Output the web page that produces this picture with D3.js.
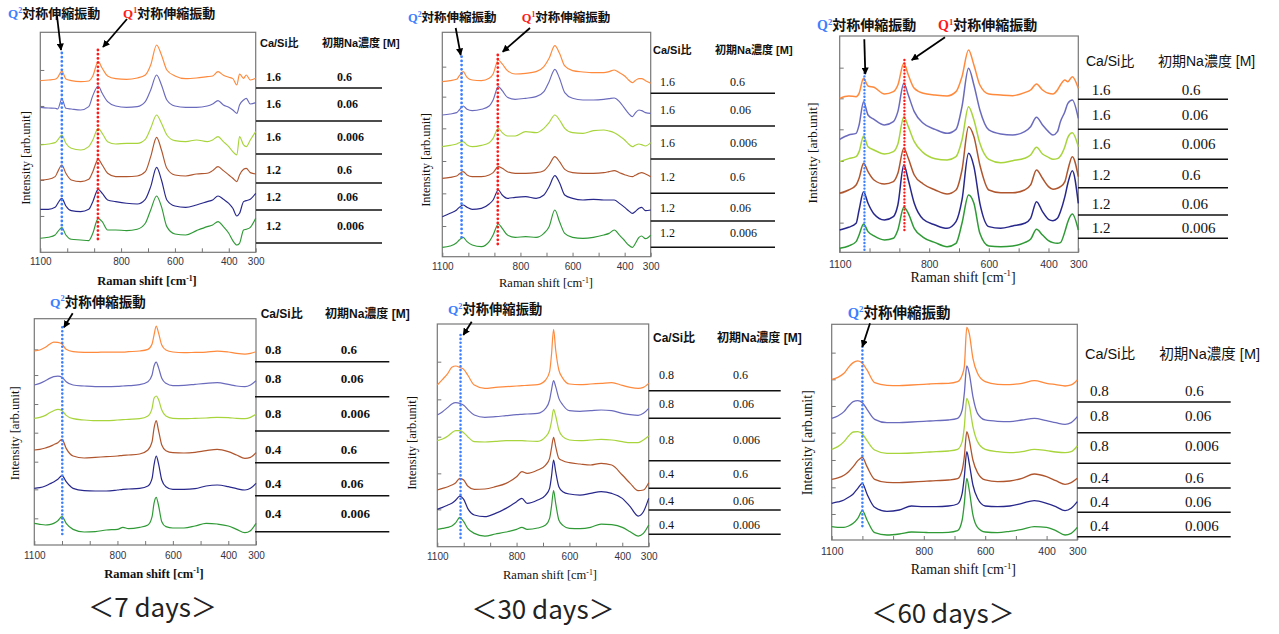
<!DOCTYPE html>
<html><head><meta charset="utf-8">
<script src="https://cdn.jsdelivr.net/npm/d3@7"></script>
<style>
html,body{margin:0;padding:0;background:#fff;}
svg{display:block;}
</style></head><body>
<svg id="chart" width="1279" height="634"></svg>
<script>
// ---------------- DATA ----------------
// Raman shift sample positions [cm-1]
const shiftTop = [1100,1070,1045,1035,1020,1005,985,950,920,905,885,870,850,820,780,740,710,690,668,650,630,600,560,520,480,460,440,420,400,385,370,360,345,335,320,300];
const shiftBottom = [1100,1080,1060,1045,1030,1015,1000,985,960,920,880,840,800,780,760,720,690,675,668,660,652,640,625,600,560,520,480,440,400,370,340,320,300];

const xTicks = [1100,1000,900,800,700,600,500,400,300];
const xTickLabels = [1100,800,600,400,300];

const caSiHigh = ["1.6","1.6","1.6","1.2","1.2","1.2"];
const caSiLow = ["0.8","0.8","0.8","0.4","0.4","0.4"];
const naConc = ["0.6","0.06","0.006","0.6","0.06","0.006"];
const dayLabels = ["＜7 days＞","＜30 days＞","＜60 days＞"];
const seriesColors = ["#ff8a3d","#6b6bbd","#a8d43c","#b0562e","#28288c","#2f9a36"];

// peak marker positions [cm-1]
const q2Shift = [1020,1026,1017,999,1012,1000];
const q1Shift = [886,887,883];

// intensities [arb.unit], offset-stacked as in the figure
// 7 days, Ca/Si 1.6 / 1.2
const d7_ca16_na06   = [515,517,519,525,544,520,515,512,514,529,572,552,529,521,519,523,532,562,622,592,547,529,521,523,527,529,542,531,525,521,502,535,522,532,517,522];
const d7_ca16_na006  = [435,433,432,430,460,432,430,427,437,470,499,477,452,439,435,437,452,487,532,502,457,439,435,435,439,445,455,442,435,427,417,442,457,462,445,449];
const d7_ca16_na0006 = [322,325,329,337,352,327,312,307,317,337,372,357,332,325,327,327,339,372,412,387,352,335,332,337,332,337,347,332,317,302,292,347,322,317,337,362];
const d7_ca12_na06   = [217,219,227,242,262,237,217,212,219,242,279,262,237,227,227,229,242,287,345,307,252,232,229,235,237,245,257,245,232,222,212,232,249,252,239,235];
const d7_ca12_na006  = [129,129,135,147,162,139,125,122,129,152,189,177,157,152,147,145,159,197,255,217,157,139,135,142,152,157,169,159,147,132,109,117,152,155,159,177];
const d7_ca12_na0006 = [42,45,52,62,74,52,39,37,35,57,102,92,67,67,65,69,87,127,169,137,77,55,52,65,77,82,92,77,57,35,22,27,67,69,75,102];
// 30 days, Ca/Si 1.6 / 1.2
const d30_ca16_na06   = [525,528,532,542,555,538,530,528,535,548,590,578,558,548,550,555,570,595,633,610,572,558,554,552,552,555,560,552,542,530,522,528,534,534,528,520];
const d30_ca16_na006  = [425,428,432,440,452,442,438,442,452,470,510,498,478,472,475,480,495,525,562,535,492,475,470,470,472,474,476,465,445,430,420,430,440,438,432,430];
const d30_ca16_na0006 = [330,334,338,342,345,335,330,334,342,355,385,372,362,362,375,372,385,402,425,410,385,372,370,378,380,377,372,362,350,338,330,334,338,336,332,342];
const d30_ca12_na06   = [235,238,242,248,255,245,240,240,245,252,270,265,255,250,250,252,258,275,300,285,262,252,250,250,252,255,258,252,246,242,240,244,250,252,248,240];
const d30_ca12_na006  = [120,130,140,148,155,148,142,145,158,170,200,185,175,178,180,175,185,210,243,222,185,175,170,172,170,170,170,160,148,138,130,135,145,148,138,140];
const d30_ca12_na0006 = [28,32,42,50,58,45,35,30,45,65,98,85,65,58,60,58,70,90,140,105,70,58,55,58,65,70,80,65,48,35,28,38,58,62,54,65];
// 60 days, Ca/Si 1.6 / 1.2
const d60_ca16_na06   = [462,469,467,477,522,499,495,475,482,502,567,532,492,477,472,469,482,527,607,562,502,475,472,470,479,487,505,487,477,475,487,502,517,512,527,492];
const d60_ca16_na006  = [339,352,357,382,452,412,399,382,392,422,507,472,422,387,369,357,369,437,552,502,427,367,355,352,362,377,405,382,362,352,362,392,422,447,457,402];
const d60_ca16_na0006 = [272,281,287,302,349,317,307,295,302,325,407,377,332,299,281,277,287,337,437,397,327,279,269,275,282,292,315,295,285,279,281,289,317,345,359,317];
const d60_ca12_na06   = [177,187,202,222,267,242,217,205,212,237,312,282,232,205,187,175,187,247,377,347,262,187,179,179,187,202,247,222,197,189,192,197,212,247,287,227];
const d60_ca12_na006  = [67,75,87,127,182,147,115,97,107,142,262,217,147,99,82,72,92,157,297,257,147,77,72,79,87,102,152,122,99,95,102,122,167,207,245,147];
const d60_ca12_na0006 = [12,19,32,52,85,62,49,37,42,67,135,117,72,45,29,17,27,87,172,147,57,19,17,19,29,39,69,52,35,29,27,29,62,92,115,67];
// 7 days, Ca/Si 0.8 / 0.4
const d7_ca08_na06   = [582,585,593,602,609,608,603,587,580,578,578,579,579,579,580,582,587,603,630,657,637,600,585,579,577,578,579,582,579,575,573,575,580];
const d7_ca08_na006  = [480,485,493,500,505,507,503,490,480,477,475,475,476,477,478,481,490,510,537,549,533,500,485,478,479,482,485,487,482,477,475,480,493];
const d7_ca08_na0006 = [380,383,389,397,403,407,403,389,379,375,373,373,375,376,377,379,387,410,440,447,437,405,387,380,379,380,381,383,382,380,379,383,392];
const d7_ca04_na06   = [285,287,291,295,301,307,317,290,267,261,263,265,267,269,270,273,285,310,350,373,345,300,283,277,276,278,283,287,280,270,260,263,277];
const d7_ca04_na006  = [170,172,177,183,189,197,208,190,170,163,162,162,165,167,168,170,177,200,240,267,245,195,175,167,167,169,177,180,175,169,165,170,185];
const d7_ca04_na0006 = [65,62,60,61,65,73,85,65,47,39,40,45,47,53,49,53,60,85,125,143,120,70,55,51,51,57,65,63,57,47,37,43,65];
// 30 days, Ca/Si 0.8 / 0.4
const d30_ca08_na06   = [485,502,520,538,542,538,532,515,485,475,478,480,482,483,484,486,500,525,575,652,590,530,505,488,486,488,490,492,484,478,475,478,490];
const d30_ca08_na006  = [395,405,418,428,432,430,424,412,395,388,390,393,396,397,398,400,415,440,470,498,480,445,425,408,406,408,410,408,400,396,394,400,415];
const d30_ca08_na0006 = [318,323,332,342,348,348,342,330,315,314,316,318,318,318,317,316,330,350,375,412,392,350,330,320,318,320,322,320,315,312,312,320,332];
const d30_ca04_na06   = [170,175,180,185,192,205,200,182,172,173,180,190,210,225,220,230,245,265,295,328,300,265,258,252,248,245,250,245,215,190,168,170,192];
const d30_ca04_na006  = [112,118,125,130,140,152,142,115,95,90,100,115,135,145,130,140,155,175,210,260,225,180,165,158,155,160,165,160,145,120,92,105,145];
const d30_ca04_na0006 = [52,55,58,62,72,88,75,55,40,32,38,44,52,58,52,56,65,85,120,168,130,80,64,55,54,58,68,66,58,45,32,40,65];
// 60 days, Ca/Si 0.8 / 0.4
const d60_ca08_na06   = [482,488,500,518,532,537,530,510,472,464,463,465,467,468,469,470,475,495,520,638,620,545,500,475,467,466,470,478,470,466,462,465,480];
const d60_ca08_na006  = [365,372,385,402,415,418,412,392,362,352,352,354,356,357,358,360,365,390,440,522,500,430,380,360,356,355,360,365,358,352,347,352,370];
const d60_ca08_na0006 = [272,280,295,312,324,325,318,298,270,260,260,261,263,264,265,267,272,295,340,425,405,340,295,272,265,262,265,272,268,264,262,265,282];
const d60_ca04_na06   = [182,186,194,205,220,238,248,220,182,173,172,174,176,177,178,180,184,210,250,325,300,240,202,180,175,177,185,198,190,178,167,172,185];
const d60_ca04_na006  = [110,114,120,128,138,155,170,138,98,86,90,102,100,100,100,102,108,140,190,265,230,165,125,102,100,102,110,118,110,100,88,95,115];
const d60_ca04_na0006 = [40,38,38,42,50,65,88,60,22,15,18,24,23,22,22,23,28,60,110,185,150,75,38,24,22,26,32,40,38,28,15,20,38];

// ---------------- LAYOUT ----------------
const SANS = "'Liberation Sans','Noto Sans CJK JP',Arial,sans-serif";
const SERIF = "'Liberation Serif','Times New Roman',serif";
const CJK = "'Noto Sans CJK JP','Noto Sans CJK SC',sans-serif";

const panels = [
 {shifts: shiftTop, series:[d7_ca16_na06,d7_ca16_na006,d7_ca16_na0006,d7_ca12_na06,d7_ca12_na006,d7_ca12_na0006], caSi: caSiHigh,
  yMax:660, left:40.3,right:255.7,top:32.3,bottom:252.3, yTicks:[547,439,325,217,109], lw:1.15, dot:[2.8,4.2],
  tickY:262, tickFs:10, titleX:147,titleY:281,titleFs:12.5,titleW:"bold", yTitleX:26,yTitleY:158,yTitleFs:12.5,
  q2:{x:8,y:13,fs:13, a:[57,16,61,50], ly:[53,237], s:q2Shift[0]},
  q1:{x:123,y:13,fs:13, a:[127,19,103,47], ly:[50,240], s:q1Shift[0]},
  tab:{hy:43, hCa:260, hNa:322, hFs:11, hW:"bold", rows:[77,104,137,170,197,226], lines:[88,121,154,183,210,243], lx:[256,382], vCa:266, vNa:337, vFs:12, vW:"bold"}},
 {shifts: shiftTop, series:[d30_ca16_na06,d30_ca16_na006,d30_ca16_na0006,d30_ca12_na06,d30_ca12_na006,d30_ca12_na0006], caSi: caSiHigh,
  yMax:673, left:442.3,right:650.7,top:32.3,bottom:256.7, yTicks:[570,480,385,287,190,92], lw:1.15, dot:[2.8,4.2],
  tickY:266.7, tickFs:10, titleX:546,titleY:283,titleFs:12.5,titleW:"normal", yTitleX:426,yTitleY:160,yTitleFs:12.5,
  q2:{x:408,y:17,fs:12.5, a:[455.7,28,460.7,55], ly:[56.7,240], s:q2Shift[1]},
  q1:{x:521.7,y:17,fs:12.5, a:[530,28,502.7,51.7], ly:[55,245], s:q1Shift[1]},
  tab:{hy:50, hCa:653, hNa:715, hFs:11, hW:"bold", rows:[81.7,110,142.3,176.7,207.3,232.7], lines:[93.3,126,159,193.3,221,247.3], lx:[650.7,775], vCa:660, vNa:730, vFs:12, vW:"normal"}},
 {shifts: shiftTop, series:[d60_ca16_na06,d60_ca16_na006,d60_ca16_na0006,d60_ca12_na06,d60_ca12_na006,d60_ca12_na0006], caSi: caSiHigh,
  yMax:649, left:839.7,right:1078.3,top:36,bottom:252.3, yTicks:[554,462,369,274,180,89], lw:1.5, dot:[2.4,3.4],
  tickY:264.3, tickFs:10.5, titleX:963,titleY:276.7,titleFs:14,titleW:"normal", yTitleX:812.7,yTitleY:153,yTitleFs:13.5,
  q2:{x:817,y:25,fs:14, a:[864.3,39.3,865.3,74], ly:[73,250], s:q2Shift[2]},
  q1:{x:938,y:25,fs:14, a:[945,37.3,911.7,60], ly:[60,233], s:q1Shift[2]},
  tab:{hy:61, hCa:1086, hNa:1158, hFs:14, hW:"normal", rows:[89.3,114.3,143.3,174.3,204,227.3], lines:[99.3,129.3,159.3,187.7,215,238.3], lx:[1078,1228], vCa:1091.7, vNa:1181.7, vFs:15, vW:"normal"}},
 {shifts: shiftBottom, series:[d7_ca08_na06,d7_ca08_na006,d7_ca08_na0006,d7_ca04_na06,d7_ca04_na006,d7_ca04_na0006], caSi: caSiLow,
  yMax:679, left:34.3,right:256,top:318.7,bottom:545, yTicks:[587,510,423,337,250,167,80], lw:1.2, dot:[2.6,3.9],
  tickY:555.7, tickFs:10, titleX:154,titleY:573.3,titleFs:12.5,titleW:"bold", yTitleX:15,yTitleY:433.3,yTitleFs:12.5,
  q2:{x:50,y:301.7,fs:13.5, a:[72.7,313.3,64,327.3], ly:[327.3,536.7], s:q2Shift[3]},
  day:{x:152.5,y:608,text:dayLabels[0]},
  tab:{hy:314, hCa:260.7, hNa:325, hFs:12, hW:"bold", rows:[349.3,378.3,413.3,449.3,483.3,513.3], lines:[361.7,396.7,431,462.7,495.7,531.7], lx:[255,389.3], vCa:265, vNa:340.7, vFs:13, vW:"bold"}},
 {shifts: shiftBottom, series:[d30_ca08_na06,d30_ca08_na006,d30_ca08_na0006,d30_ca04_na06,d30_ca04_na006,d30_ca04_na0006], caSi: caSiLow,
  yMax:668, left:437.3,right:648.7,top:324,bottom:546.7, yTicks:[555,442,330,220,112], lw:1.2, dot:[2.6,3.9],
  tickY:556.7, tickFs:10, titleX:550,titleY:575,titleFs:12.5,titleW:"normal", yTitleX:412,yTitleY:443,yTitleFs:12.5,
  q2:{x:448,y:309.3,fs:13.3, a:[471.7,321.7,463.3,335], ly:[335,538.3], s:q2Shift[4]},
  day:{x:543,y:610,text:dayLabels[1]},
  tab:{hy:337.7, hCa:653, hNa:717, hFs:12, hW:"bold", rows:[375,404,440,474,501,525], lines:[390.7,418.3,460.7,488.3,510,534.3], lx:[648.7,780.7], vCa:659, vNa:733, vFs:12, vW:"normal"}},
 {shifts: shiftBottom, series:[d60_ca08_na06,d60_ca08_na006,d60_ca08_na0006,d60_ca04_na06,d60_ca04_na006,d60_ca04_na0006], caSi: caSiLow,
  yMax:647, left:831.7,right:1077.3,top:324.3,bottom:540, yTicks:[562,482,402,322,240,158,78], lw:1.3, dot:[2.6,3.9],
  tickY:551, tickFs:10.5, titleX:963.3,titleY:569.3,titleFs:14,titleW:"normal", yTitleX:807.3,yTitleY:442.7,yTitleFs:14,
  q2:{x:847.7,y:312.7,fs:14.5, a:[870,323.3,862.3,346.7], ly:[346.7,529.3], s:q2Shift[5]},
  day:{x:943,y:613.3,text:dayLabels[2]},
  tab:{hy:354, hCa:1085, hNa:1159.3, hFs:14.5, hW:"normal", rows:[391,416,446,477.3,502,525.3], lines:[402,432.7,463.3,488,512.3,536.7], lx:[1077.3,1230.7], vCa:1090, vNa:1185, vFs:15, vW:"normal"}}
];

// ---------------- DRAW ----------------
const svg = d3.select("#chart");
svg.append("rect").attr("width",1279).attr("height",634).attr("fill","#fff");
svg.append("defs").append("marker").attr("id","arrow").attr("viewBox","0 0 10 10")
  .attr("refX",9).attr("refY",5).attr("markerWidth",4).attr("markerHeight",4).attr("orient","auto")
  .append("path").attr("d","M0,0L10,5L0,10z").attr("fill","#000");

function qLabel(g, q, n, color) {
  const t = g.append("text").attr("x", q.x).attr("y", q.y + q.fs*0.36).attr("font-size", q.fs);
  t.append("tspan").attr("font-family", SERIF).attr("font-weight","bold").attr("fill", color).text("Q");
  t.append("tspan").attr("font-family", SERIF).attr("font-weight","bold").attr("fill", color)
    .attr("font-size", q.fs*0.62).attr("dy", -q.fs*0.38).text(n);
  t.append("tspan").attr("font-family", CJK).attr("font-weight","bold").attr("fill","#111")
    .attr("dy", q.fs*0.38).text("対称伸縮振動");
  g.append("line").attr("x1",q.a[0]).attr("y1",q.a[1]).attr("x2",q.a[2]).attr("y2",q.a[3])
    .attr("stroke","#000").attr("stroke-width",1.8).attr("marker-end","url(#arrow)");
}

panels.forEach(p => {
  const g = svg.append("g");
  const x = d3.scaleLinear().domain([1100,300]).range([p.left,p.right]);
  const y = d3.scaleLinear().domain([0,p.yMax]).range([p.bottom,p.top]);

  // frame
  g.append("rect").attr("x",p.left).attr("y",p.top).attr("width",p.right-p.left).attr("height",p.bottom-p.top)
    .attr("fill","none").attr("stroke","#777").attr("stroke-width",1.2);

  // x axis
  const xa = g.append("g").attr("transform",`translate(0,${p.bottom})`)
    .call(d3.axisBottom(x).tickValues(xTicks).tickSizeInner(-4).tickSizeOuter(0)
      .tickPadding(p.tickY - p.bottom - p.tickFs*0.36)
      .tickFormat(d => xTickLabels.includes(d) ? d : ""));
  xa.select(".domain").remove();
  xa.selectAll("line").attr("stroke","#777");
  xa.selectAll("text").attr("font-family",SANS).attr("font-size",p.tickFs).attr("fill","#333344");

  // y ticks (no labels)
  const ya = g.append("g").attr("transform",`translate(${p.left},0)`)
    .call(d3.axisLeft(y).tickValues(p.yTicks).tickSizeInner(-4).tickSizeOuter(0).tickFormat(""));
  ya.select(".domain").remove();
  ya.selectAll("line").attr("stroke","#777");

  // spectra
  const line = d3.line().x((d,i) => x(p.shifts[i])).y(d => y(d)).curve(d3.curveMonotoneX);
  p.series.forEach((s,i) => {
    g.append("path").attr("d", line(s)).attr("fill","none")
      .attr("stroke", seriesColors[i]).attr("stroke-width",p.lw).attr("stroke-linejoin","round");
  });

  // dotted marker lines
  const dotted = (s, ly, color) => g.append("line").attr("x1",x(s)).attr("x2",x(s)).attr("y1",ly[0]).attr("y2",ly[1])
     .attr("stroke",color).attr("stroke-width",p.dot[0]).attr("stroke-linecap","round").attr("stroke-dasharray",`0 ${p.dot[1]}`);
  dotted(p.q2.s, p.q2.ly, "#3d7fff");
  if (p.q1) dotted(p.q1.s, p.q1.ly, "#ff1a1a");

  qLabel(g, p.q2, "2", "#3d7fff");
  if (p.q1) qLabel(g, p.q1, "1", "#ff1a1a");

  // axis titles
  const xt = g.append("text").attr("x",p.titleX).attr("y",p.titleY + p.titleFs*0.35).attr("text-anchor","middle")
    .attr("font-family",SERIF).attr("font-size",p.titleFs).attr("font-weight",p.titleW).attr("fill","#111");
  xt.append("tspan").text("Raman shift [cm");
  xt.append("tspan").attr("font-size",p.titleFs*0.62).attr("dy",-p.titleFs*0.38).text("-1");
  xt.append("tspan").attr("dy",p.titleFs*0.38).text("]");
  g.append("text").attr("transform",`translate(${p.yTitleX + p.yTitleFs*0.35},${p.yTitleY}) rotate(-90)`)
    .attr("text-anchor","middle").attr("font-family",SERIF).attr("font-size",p.yTitleFs).attr("fill","#111")
    .text("Intensity [arb.unit]");

  // table
  const t = p.tab;
  g.append("text").attr("x",t.hCa).attr("y",t.hy + t.hFs*0.36).attr("font-family",SANS).attr("font-size",t.hFs)
    .attr("font-weight",t.hW).attr("fill","#111").text("Ca/Si比");
  g.append("text").attr("x",t.hNa).attr("y",t.hy + t.hFs*0.36).attr("font-family",SANS).attr("font-size",t.hFs)
    .attr("font-weight",t.hW).attr("fill","#111").text("初期Na濃度 [M]");
  t.rows.forEach((ry,i) => {
    g.append("text").attr("x",t.vCa).attr("y",ry + t.vFs*0.35).attr("font-family",SERIF).attr("font-size",t.vFs)
      .attr("font-weight",t.vW).attr("fill","#111").text(p.caSi[i]);
    g.append("text").attr("x",t.vNa).attr("y",ry + t.vFs*0.35).attr("font-family",SERIF).attr("font-size",t.vFs)
      .attr("font-weight",t.vW).attr("fill","#111").text(naConc[i]);
  });
  t.lines.forEach(ly => {
    g.append("line").attr("x1",t.lx[0]).attr("x2",t.lx[1]).attr("y1",ly).attr("y2",ly)
      .attr("stroke","#111").attr("stroke-width",1.4);
  });

  if (p.day) {
    g.append("text").attr("x",p.day.x).attr("y",p.day.y + 26*0.36).attr("text-anchor","middle")
      .attr("font-family",CJK).attr("font-size",26).attr("fill","#222").text(p.day.text);
  }
});
</script>
</body></html>
